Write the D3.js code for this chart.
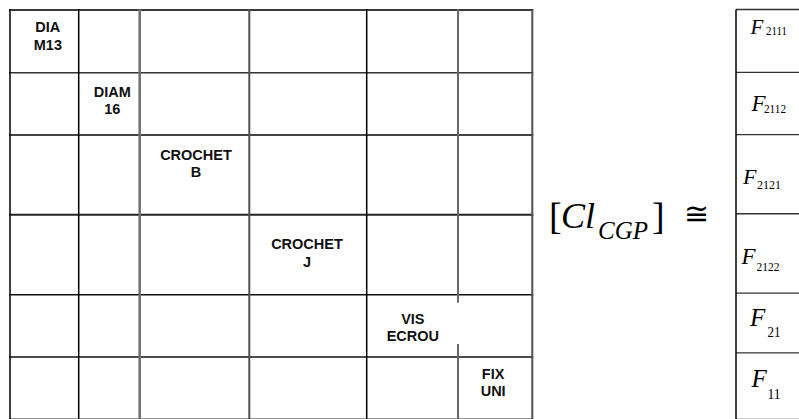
<!DOCTYPE html>
<html><head><meta charset="utf-8">
<script src="https://cdn.jsdelivr.net/npm/d3@7"></script>
<style>html,body{margin:0;padding:0;background:#fff;overflow:hidden} svg{display:block}</style>
</head><body>
<script>
// ---- data ----
const categories = ["DIA M13", "DIAM 16", "CROCHET B", "CROCHET J", "VIS ECROU", "FIX UNI"];
const labelLines = [["DIA", "M13"], ["DIAM", "16"], ["CROCHET", "B"], ["CROCHET", "J"], ["VIS", "ECROU"], ["FIX", "UNI"]];
const factorSubscripts = ["2111", "2112", "2121", "2122", "21", "11"];
const matrixName = "Cl";
const matrixSubscript = "CGP";

// ---- layout ----
const W = 799, H = 419;
const colW = [68.7, 61, 109.6, 117.4, 91.3, 74.3];
const rowH = [62.7, 62.3, 79.7, 80, 62.3, 62.3];
const fRowH = [62.7, 62.3, 79, 79.3, 59.7, 66.3];

const cum = a => a.reduce((acc, v) => { acc.push(acc[acc.length - 1] + v); return acc; }, [0]);
const colEdgesU = cum(colW), rowEdgesU = cum(rowH), fEdgesU = cum(fRowH);

const x = d3.scaleLinear().domain([0, d3.sum(colW)]).range([10, 532.3]);
const y = d3.scaleLinear().domain([0, d3.sum(rowH)]).range([10, 419.3]);
const yF = d3.scaleLinear().domain([0, d3.sum(fRowH)]).range([9.5, 419.3]);

const svg = d3.select("body").append("svg").attr("width", W).attr("height", H);

// styles of grid lines
const vColor = ["#000", "#000", "#6e6e6e", "#505050", "#000", "#666", "#505050"];
const vWidth = [1.5, 1.5, 2.5, 2, 1.5, 2, 2];
const hColor = ["#3a3a3a", "#333", "#444", "#222", "#111", "#111", "#222"];
const hWidth = [2, 1.6, 2, 2, 1.5, 1.5, 1.5];

const g = svg.append("g");
g.selectAll("line.h").data(rowEdgesU).join("line").attr("class", "h")
  .attr("x1", x(0) - 0.75).attr("x2", x(d3.sum(colW)) + 1)
  .attr("y1", d => y(d)).attr("y2", d => y(d))
  .attr("stroke", (d, i) => hColor[i]).attr("stroke-width", (d, i) => hWidth[i]);
g.selectAll("line.v").data(colEdgesU).join("line").attr("class", "v")
  .attr("x1", d => x(d)).attr("x2", d => x(d))
  .attr("y1", y(0) - 1).attr("y2", H + 2)
  .attr("stroke", (d, i) => vColor[i]).attr("stroke-width", (d, i) => vWidth[i]);

// white box behind the VIS ECROU label (cuts the line)
const gapIdx = 4;
svg.append("rect")
  .attr("x", x(colEdgesU[gapIdx + 1]) - 3).attr("width", 6)
  .attr("y", y(rowEdgesU[gapIdx]) + 8).attr("height", 41.3)
  .attr("fill", "#fff");

// diagonal labels
const labelDx = [3.5, 3, 1.5, -1, 0.5, -2];
const labelDy = [22, 24, 24.5, 34.5, 29, 21.5];
const lab = svg.append("g")
  .attr("font-family", "'Liberation Sans', Arial, sans-serif")
  .attr("font-weight", "bold").attr("font-size", 14.5).attr("fill", "#111")
  .attr("text-anchor", "middle");
categories.forEach((c, i) => {
  const cx = (x(colEdgesU[i]) + x(colEdgesU[i + 1])) / 2 + labelDx[i];
  const top = y(rowEdgesU[i]);
  const t = lab.append("text");
  labelLines[i].forEach((ln, k) => {
    t.append("tspan").attr("x", cx).attr("y", top + labelDy[i] + k * 17.5).text(ln);
  });
});

// formula
const serif = "'Liberation Serif', 'Times New Roman', serif";
const fm = svg.append("g").attr("font-family", serif).attr("fill", "#000");
fm.append("text").attr("x", 549).attr("y", 229).attr("font-size", 38).text("[");
fm.append("text").attr("x", 561).attr("y", 227.5).attr("font-size", 36).attr("font-style", "italic").text(matrixName);
fm.append("text").attr("x", 598).attr("y", 238.5).attr("font-size", 25).attr("font-style", "italic").text(matrixSubscript);
fm.append("text").attr("x", 652).attr("y", 229).attr("font-size", 38).text("]");
fm.append("text").attr("x", 684).attr("y", 224).attr("font-size", 30).attr("font-family", "'DejaVu Sans', sans-serif").text("\u2245");

// factor column
const fx0 = 736;
const fg = svg.append("g");
fg.selectAll("line.fh").data(fEdgesU).join("line")
  .attr("x1", fx0).attr("x2", W + 2)
  .attr("y1", d => yF(d)).attr("y2", d => yF(d))
  .attr("stroke", "#333").attr("stroke-width", 1.3);
fg.append("line").attr("x1", fx0).attr("x2", fx0).attr("y1", yF(0)).attr("y2", H + 2)
  .attr("stroke", "#000").attr("stroke-width", 1.5);

const fSize = [21, 23, 22, 23, 25, 25];
const fX = [750.5, 751.5, 743, 741.5, 750, 751.5];
const fBase = [33.5, 110.5, 183.5, 263.5, 325.5, 387];
const sSize = [12, 13, 13, 13, 15, 15];
const sX = [766, 764, 757, 756.5, 767.5, 767.5];
const sW = [21, 22, 24, 23, 13, 13];
const sDy = [1.5, 2, 5.3, 7.5, 11.5, 11.5];
factorSubscripts.forEach((s, i) => {
  const t = fg.append("text").attr("font-family", serif).attr("fill", "#000");
  t.append("tspan").attr("x", fX[i]).attr("y", fBase[i]).attr("font-size", fSize[i]).attr("font-style", "italic").text("F");
  t.append("tspan").attr("x", sX[i]).attr("y", fBase[i] + sDy[i]).attr("font-size", sSize[i])
    .attr("textLength", sW[i]).attr("lengthAdjust", "spacingAndGlyphs").text(s);
});
</script>
</body></html>
